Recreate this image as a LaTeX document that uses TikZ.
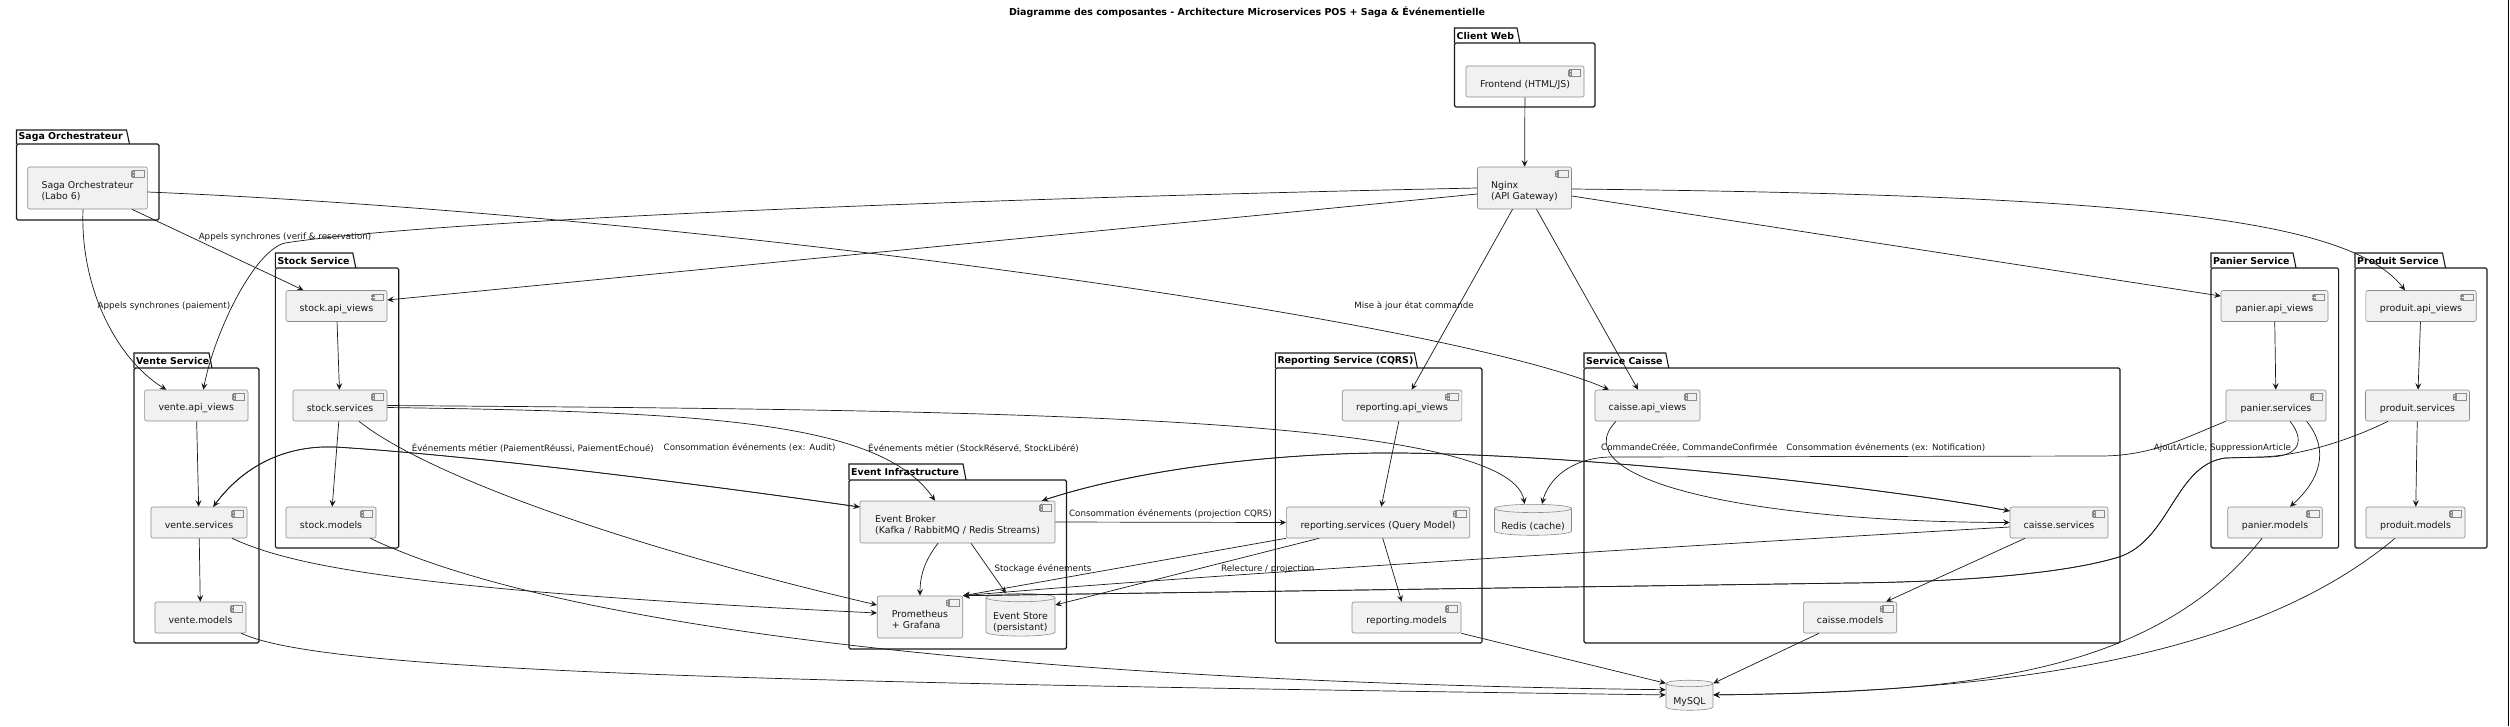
\documentclass[tikz,border=0pt]{standalone}
\usepackage{fontspec}
\setmainfont{DejaVu Sans}
\usetikzlibrary{arrows.meta,shapes.geometric}
\usepackage{xcolor}
\definecolor{compfill}{HTML}{F1F1F1}
\definecolor{compline}{HTML}{8A8A8A}
\definecolor{linecol}{HTML}{181818}
\newcommand{\compfont}{\fontsize{9.4}{11}\selectfont}
\newcommand{\lblfont}{\fontsize{8.7}{10.5}\selectfont}
\newcommand{\pkgfont}{\bfseries\fontsize{9.4}{11}\selectfont}
\newcommand{\ttlfont}{\bfseries\fontsize{9.5}{11}\selectfont}
% pushes the text of a box a bit below its middle
\newcommand{\compstrut}{\rule{0pt}{13pt}}
\newcommand{\dbstrut}{\rule{0pt}{17pt}}
% package frame: name, title, x left, x tab end, x right, y tab, y body, y bottom
\newcommand{\pkgframe}[8]{%
  \draw[pkgline] (#3,#7) -- (#3,#6) -- ({#4-3},#6) -- (#4,#7);
  \draw[pkgline, rounded corners=1.5pt] (#3,#7) rectangle (#5,#8);
  \node[pkgtitle] (#1) at ({#3+2},{(#6+#7)/2}) {#2};
}

\begin{document}
\begin{tikzpicture}[x=1pt, y=-1pt,
    comp/.style={draw=compline, line width=0.6pt, fill=compfill, rounded corners=2pt,
      inner sep=0pt, minimum height=31pt, align=left, font=\compfont, text=linecol,
      path picture={
        \draw[draw=compline, fill=compfill, line width=0.6pt, sharp corners]
          ([shift={(-14.6pt,-3.3pt)}]path picture bounding box.north east) rectangle ++(11.3pt,-6.7pt)
          ([shift={(-16.2pt,-4.6pt)}]path picture bounding box.north east) rectangle ++(3.2pt,-1.6pt)
          ([shift={(-16.2pt,-7.4pt)}]path picture bounding box.north east) rectangle ++(3.2pt,-1.6pt);
      }},
    db/.style={shape=cylinder, shape border rotate=90, draw=compline, line width=0.6pt,
      fill=compfill, inner sep=0pt, align=left, font=\compfont, text=linecol},
    conn/.style={draw=linecol, line width=0.7pt, -{Stealth[length=6.5pt,width=6pt,inset=2.5pt]}},
    lbl/.style={font=\lblfont, inner sep=0pt, text=linecol},
    pkgline/.style={draw=linecol, line width=1.1pt},
    pkgtitle/.style={font=\pkgfont, anchor=west, inner sep=0pt, text=black}]
  \useasboundingbox (0,0) rectangle (2510,726);

  % Title
  \node[font=\ttlfont, inner sep=0pt] (title) at (1247,12) {Diagramme des composantes - Architecture Microservices POS + Saga \& Événementielle};
  \draw[line width=1pt] (2508.5,0) -- (2508.5,726);

  % Client Web
  \pkgframe{pclient}{Client Web}{1454.5}{1520}{1595}{28}{43}{107}
  \node[comp, minimum width=118pt] (front) at (1525,81.5) {\compstrut Frontend (HTML/JS)};
  \node[comp, minimum width=94pt, minimum height=42pt] (nginx) at (1524.5,188) {\compstrut Nginx\\(API Gateway)};

  % Saga
  \pkgframe{psaga}{Saga Orchestrateur}{16.5}{129.5}{159}{130}{144}{220}
  \node[comp, minimum width=119.6pt, minimum height=42pt] (saga) at (87.5,188) {\compstrut Saga Orchestrateur\\(Labo 6)};

  % Stock
  \pkgframe{pstock}{Stock Service}{275.4}{355.8}{398.7}{253}{268}{548}
  \node[comp, minimum width=101pt] (sapi) at (336.5,306) {\compstrut stock.api\_views};
  \node[comp, minimum width=94pt] (ssrv) at (340,405.5) {\compstrut stock.services};
  \node[comp, minimum width=90pt] (smod) at (331,522.5) {\compstrut stock.models};

  % Vente
  \pkgframe{pvente}{Vente Service}{134}{212}{259}{353}{368}{643}
  \node[comp, minimum width=103.4pt] (vapi) at (196.3,405.5) {\compstrut vente.api\_views};
  \node[comp, minimum width=96pt] (vsrv) at (199,522.5) {\compstrut vente.services};
  \node[comp, minimum width=91pt] (vmod) at (200.5,617.5) {\compstrut vente.models};

  % Event infrastructure
  \pkgframe{pevent}{Event Infrastructure}{849}{966}{1066.5}{464}{480}{649}
  \node[comp, minimum width=195pt, minimum height=42pt] (broker) at (957.5,522) {\compstrut Event Broker\\(Kafka / RabbitMQ / Redis Streams)};
  \node[comp, minimum width=85.5pt, minimum height=42pt] (prom) at (920,617) {\compstrut Prometheus\\+ Grafana};
  \node[db, minimum width=69pt, minimum height=42pt, aspect=0.15] (store) at (1020.5,617) {\dbstrut Event Store\\(persistant)};

  % Reporting
  \pkgframe{preport}{Reporting Service (CQRS)}{1275.4}{1417.4}{1482}{353}{368}{643}
  \node[comp, minimum width=119.6pt] (rapi) at (1402,405.5) {\compstrut reporting.api\_views};
  \node[comp, minimum width=183.4pt] (rsrv) at (1378,522.5) {\compstrut reporting.services (Query Model)};
  \node[comp, minimum width=109pt] (rmod) at (1406.5,617.5) {\compstrut reporting.models};

  \node[db, minimum width=77pt, minimum height=30pt, aspect=0.13] (redis) at (1533,522) {\dbstrut Redis (cache)};

  % Caisse
  \pkgframe{pcaisse}{Service Caisse}{1584}{1668.75}{2120}{353}{368}{643}
  \node[comp, minimum width=105pt] (capi) at (1647.5,405.5) {\compstrut caisse.api\_views};
  \node[comp, minimum width=98pt] (csrv) at (2059,522.5) {\compstrut caisse.services};
  \node[comp, minimum width=93.4pt] (cmod) at (1850,617.5) {\compstrut caisse.models};

  \node[db, minimum width=47pt, minimum height=30pt, aspect=0.2] (mysql) at (1689.5,697) {\dbstrut MySQL};

  % Panier
  \pkgframe{ppanier}{Panier Service}{2211}{2296}{2338.6}{253}{268}{548}
  \node[comp, minimum width=107pt] (papi) at (2274.5,306) {\compstrut panier.api\_views};
  \node[comp, minimum width=100pt] (psrv) at (2276,405.5) {\compstrut panier.services};
  \node[comp, minimum width=94.5pt] (pmod) at (2275,522.5) {\compstrut panier.models};

  % Produit
  \pkgframe{pproduit}{Produit Service}{2355}{2445.5}{2487}{253}{268}{548}
  \node[comp, minimum width=110.4pt] (dapi) at (2421,306) {\compstrut produit.api\_views};
  \node[comp, minimum width=104pt] (dsrv) at (2417.5,405.5) {\compstrut produit.services};
  \node[comp, minimum width=99pt] (dmod) at (2415.5,522.5) {\compstrut produit.models};

  % Gateway routes
  \draw[conn] (front) -- (nginx);
  \draw[conn] (nginx.west) .. controls (900,200) and (420,222) .. (285,243) .. controls (255,250) and (215,330) .. ([xshift=7pt]vapi.north);
  \draw[conn] ([yshift=-6pt]nginx.west) -- ([yshift=6pt]sapi.east);
  \draw[conn] ([xshift=-12pt]nginx.south) -- ([xshift=9.6pt]rapi.north);
  \draw[conn] ([xshift=12pt]nginx.south) -- ([xshift=-9.5pt]capi.north);
  \draw[conn] ([yshift=-8pt]nginx.east) -- ([yshift=10pt]papi.west);
  \draw[conn] ([yshift=-1pt]nginx.east) .. controls (2150,195) and (2350,220) .. ([xshift=-16pt]dapi.north);

  % Saga calls
  \draw[conn] ([xshift=-15.6pt]saga.south east) -- ([xshift=-33pt]sapi.north);
  \draw[conn] ([xshift=-4.5pt]saga.south) .. controls (80,290) and (118,360) .. ([xshift=-30pt]vapi.north);
  \draw[conn] ([yshift=-4pt]saga.east) .. controls (700,215) and (1450,320) .. ([xshift=-38.5pt]capi.north);
  \node[lbl] (lverif) at (285,237) {Appels synchrones (verif \& reservation)};
  \node[lbl] (lpaie) at (164,306) {Appels synchrones (paiement)};
  \node[lbl] (lmaj) at (1414,306) {Mise à jour état commande};

  % Inside services
  \draw[conn] (sapi) -- (ssrv);
  \draw[conn] (ssrv) -- (smod);
  \draw[conn] (vapi) -- (vsrv);
  \draw[conn] (vsrv) -- (vmod);
  \draw[conn] (rapi) -- (rsrv);
  \draw[conn] (rsrv) -- (rmod);
  \draw[conn] (papi) -- (psrv);
  \draw[conn] (dapi) -- (dsrv);
  \draw[conn] (dsrv) -- (dmod);
  \draw[conn] ([xshift=30.6pt]psrv.south) .. controls (2330,450) and (2320,480) .. ([xshift=15pt]pmod.north);
  \draw[conn] ([xshift=-34pt]csrv.south) -- ([xshift=36pt]cmod.north);
  \draw[conn] ([xshift=-31.5pt]capi.south) .. controls (1560,480) and (1750,522) .. (csrv.west);

  % Events
  \draw[conn] ([yshift=15pt]broker.west) .. controls (600,470) and (420,452) .. (335,447) .. controls (280,445) and (240,470) .. ([xshift=-34pt]vsrv.north east);
  \draw[conn] ([xshift=-34pt]vsrv.north east) .. controls (240,470) and (280,445) .. (335,447) .. controls (420,452) and (600,470) .. ([yshift=15pt]broker.west);
  \draw[conn] ([yshift=-2pt]ssrv.east) .. controls (700,412) and (880,420) .. ([xshift=-22.5pt]broker.north);
  \draw[conn] ([xshift=84.5pt]broker.north) .. controls (1150,465) and (1300,452) .. (1400,453) .. controls (1600,455) and (1900,490) .. ([yshift=11.5pt]csrv.west);
  \draw[conn] ([yshift=11.5pt]csrv.west) .. controls (1900,490) and (1600,455) .. (1400,453) .. controls (1300,452) and (1150,465) .. ([xshift=84.5pt]broker.north);
  \draw[conn] (broker.east) -- (rsrv.west);
  \draw[conn] ([xshift=13.5pt]broker.south) -- ([xshift=-14.5pt]store.north);
  \draw[conn] ([xshift=-59pt]rsrv.south) -- ([yshift=12pt]store.east);
  \node[lbl, anchor=west] (lpaiev) at (411.6,448) {Événements métier (PaiementRéussi, PaiementEchoué)};
  \node[lbl, anchor=east] (laudit) at (835.7,448) {Consommation événements (ex: Audit)};
  \node[lbl] (lstockev) at (973.5,448) {Événements métier (StockRéservé, StockLibéré)};
  \node[lbl, anchor=west] (lcmd) at (1601,448) {CommandeCréée, CommandeConfirmée};
  \node[lbl, anchor=east] (lnotif) at (1985.5,448) {Consommation événements (ex: Notification)};
  \node[lbl] (lajout) at (2222.5,448) {AjoutArticle, SuppressionArticle};
  \node[lbl] (lcqrs) at (1170.5,514) {Consommation événements (projection CQRS)};
  \node[lbl] (lstock) at (1043,569) {Stockage événements};
  \node[lbl, anchor=west] (lrelec) at (1221,569) {Relecture / projection};

  % Cache
  \draw[conn] (ssrv.east) .. controls (1000,410) and (1510,415) .. ([xshift=-8.4pt]redis.north);
  \draw[conn] (psrv.south west) .. controls (2180,440) and (2150,456) .. (2100,456) -- (1610,457) .. controls (1570,458) and (1548,480) .. ([xshift=9pt]redis.north);

  % Monitoring
  \draw[conn] ([xshift=-19.5pt]broker.south) .. controls (925,560) and (920,575) .. (prom.north);
  \draw[conn] (rsrv.south west) -- (prom.north east);
  \draw[conn] ([xshift=19pt]ssrv.south) .. controls (420,470) and (600,540) .. ([yshift=12pt]prom.west);
  \draw[conn] ([xshift=33pt]vsrv.south) .. controls (290,565) and (400,590) .. ([yshift=4pt]prom.west);
  \draw[conn] ([yshift=-4.5pt]csrv.west) .. controls (1700,545) and (1200,575) .. (prom.north east);
  \draw[conn] ([xshift=14pt]psrv.south) .. controls (2305,440) and (2300,456) .. (2270,457) -- (2225,458) .. controls (2175,465) and (2170,540) .. (2119,557) .. controls (2060,575) and (1950,582) .. (1850,583) -- (prom.north east);
  \draw[conn] ([xshift=-29.5pt]dsrv.south) .. controls (2350,440) and (2300,456) .. (2260,457) -- (2225,458) .. controls (2175,465) and (2170,540) .. (2119,557) .. controls (2060,575) and (1950,582) .. (1850,583) -- (prom.north east);

  % Databases
  \draw[conn] ([xshift=-6pt]smod.south east) .. controls (520,610) and (900,680) .. (mysql.163);
  \draw[conn] ([xshift=-5pt]vmod.south east) .. controls (320,670) and (700,682) .. (mysql.175);
  \draw[conn] (rmod.south east) -- (mysql.150);
  \draw[conn] ([xshift=-31pt]cmod.south) -- (mysql.30);
  \draw[conn] ([xshift=-13pt]pmod.south) .. controls (2150,680) and (1950,692) .. (mysql.5);
  \draw[conn] ([xshift=-20.5pt]dmod.south) .. controls (2250,660) and (2000,692) .. (mysql.5);
\end{tikzpicture}
\end{document}
